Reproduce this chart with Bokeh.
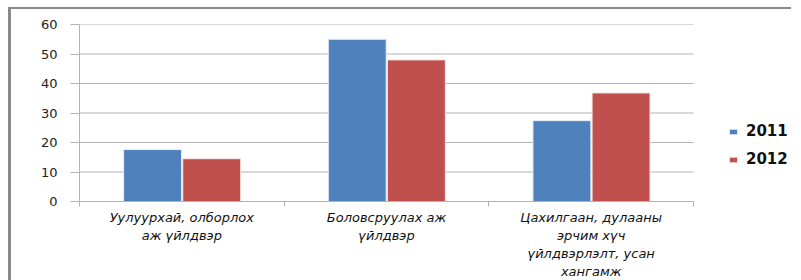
import numpy as np
from bokeh.plotting import figure
from bokeh.models import Legend, LegendItem, SingleIntervalTicker, FixedTicker, Range1d
from bokeh.layouts import column
from bokeh.embed import file_html
from bokeh.resources import INLINE

categories = ["Уулуурхай, олборлох\nаж үйлдвэр",
              "Боловсруулах аж\nүйлдвэр",
              "Цахилгаан, дулааны\nэрчим хүч\nүйлдвэрлэлт, усан\nхангамж"]
values_2011 = [17.6, 55.0, 27.4]
values_2012 = [14.5, 48.0, 36.8]
series_names = ["2011", "2012"]
y_ticks = [10, 20, 30, 40, 50, 60]

# layout: category area 614px, extra room on the right of the frame for the legend
n = len(categories)
cat_area_w = 614
frame_w = 712
x_end = n * frame_w / cat_area_w

idx = np.arange(n)
centers = idx + 0.5

p = figure(frame_width=frame_w, frame_height=177,
           x_range=Range1d(0, x_end), y_range=Range1d(0, 60),
           output_backend="svg", toolbar_location=None,
           min_border_left=68, min_border_right=0, min_border_top=15, min_border_bottom=78)
p.outline_line_color = None
p.xgrid.grid_line_color = None
p.ygrid.grid_line_color = None

# horizontal gridlines limited to the category area
p.segment(x0=[0] * len(y_ticks), x1=[n] * len(y_ticks), y0=y_ticks, y1=y_ticks,
          line_color="#b3b3b3", line_width=1)

bar_w = 0.283
r1 = p.vbar(x=centers - 0.143, top=values_2011, width=bar_w,
            fill_color="#4F81BD", line_color="#e8eef6", line_width=1)
r2 = p.vbar(x=centers + 0.146, top=values_2012, width=bar_w,
            fill_color="#C0504D", line_color="#f3e4e4", line_width=1)

p.yaxis.ticker = SingleIntervalTicker(interval=10)
p.yaxis.axis_line_color = "#b3b3b3"
p.yaxis.major_tick_line_color = "#b3b3b3"
p.yaxis.major_tick_out = 9
p.yaxis.major_tick_in = 0
p.yaxis.minor_tick_line_color = None
p.yaxis.major_label_text_font = "DejaVu Sans"
p.yaxis.major_label_text_font_size = "13px"
p.yaxis.major_label_text_color = "#222222"
p.yaxis.major_label_standoff = 13

p.xaxis.ticker = FixedTicker(ticks=list(centers), minor_ticks=list(range(n + 1)))
p.xaxis.major_label_overrides = {float(c): lab for c, lab in zip(centers, categories)}
p.xaxis.bounds = (0, n)
p.xaxis.axis_line_color = "#b3b3b3"
p.xaxis.major_tick_line_color = None
p.xaxis.minor_tick_line_color = "#b3b3b3"
p.xaxis.minor_tick_out = 5
p.xaxis.minor_tick_in = 0
p.xaxis.major_label_text_font = "DejaVu Sans"
p.xaxis.major_label_text_font_style = "italic"
p.xaxis.major_label_text_font_size = "13px"
p.xaxis.major_label_text_color = "#111111"
p.xaxis.major_label_standoff = 2

legend = Legend(items=[LegendItem(label=series_names[0], renderers=[r1]),
                       LegendItem(label=series_names[1], renderers=[r2])],
                location=(649, 32), orientation="vertical")
legend.border_line_color = None
legend.background_fill_alpha = 0
legend.glyph_width = 10
legend.glyph_height = 7
legend.label_height = 20
legend.label_text_font = "DejaVu Sans"
legend.label_text_font_style = "bold"
legend.label_text_font_size = "15px"
legend.label_text_color = "#111111"
legend.spacing = 8
legend.label_standoff = 8
legend.margin = 0
legend.padding = 10
p.add_layout(legend, "center")

layout = column(p, styles={"border-left": "3px solid #8a8a8a", "border-top": "2px solid #8a8a8a",
                           "margin-left": "8px", "margin-top": "7px"})
open("out.html", "w").write(file_html(layout, INLINE))
